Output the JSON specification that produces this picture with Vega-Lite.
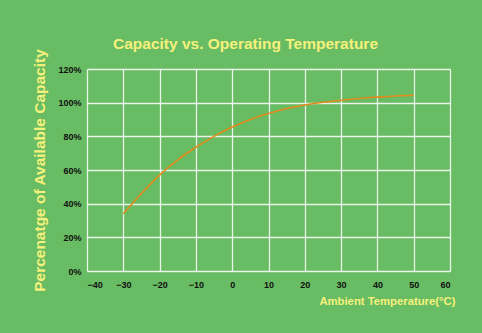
{
  "$schema": "https://vega.github.io/schema/vega-lite/v6.json",
  "autosize": {"type": "none"},
  "width": 363,
  "height": 202,
  "padding": {"left": 87, "top": 69, "right": 32, "bottom": 62},
  "background": "#68bc63",
  "title": {
    "text": "Capacity vs. Operating Temperature",
    "font": "Liberation Sans",
    "fontSize": 15.5,
    "fontWeight": "bold",
    "color": "#f6f17c",
    "anchor": "middle",
    "frame": "group",
    "baseline": "alphabetic",
    "offset": -16,
    "dx": -23
  },
  "data": {
    "values": [
      {"t": -30, "c": 0.34},
      {"t": -25, "c": 0.46},
      {"t": -20, "c": 0.57},
      {"t": -15, "c": 0.66},
      {"t": -10, "c": 0.735},
      {"t": -5, "c": 0.80},
      {"t": 0, "c": 0.855},
      {"t": 5, "c": 0.90},
      {"t": 10, "c": 0.935},
      {"t": 15, "c": 0.965},
      {"t": 20, "c": 0.986},
      {"t": 25, "c": 1.002},
      {"t": 30, "c": 1.014},
      {"t": 35, "c": 1.025},
      {"t": 40, "c": 1.033},
      {"t": 45, "c": 1.04},
      {"t": 50, "c": 1.044}
    ]
  },
  "mark": {"type": "line", "color": "#e38a1c", "strokeWidth": 1.6, "interpolate": "monotone"},
  "encoding": {
    "x": {
      "field": "t",
      "type": "quantitative",
      "scale": {"domain": [-40, 60], "nice": false},
      "axis": {
        "values": [-40, -30, -20, -10, 0, 10, 20, 30, 40, 50, 60],
        "title": "Ambient Temperature(°C)",
        "titleFont": "Liberation Sans",
        "titleFontSize": 11.3,
        "titleFontWeight": "bold",
        "titleColor": "#f6f17c",
        "titleAnchor": "end",
        "titleAlign": "right",
        "titleBaseline": "alphabetic",
        "titleX": 368,
        "titleY": 33,
        "labelFont": "Liberation Sans",
        "labelFontSize": 9,
        "labelFontWeight": "bold",
        "labelColor": "#111111",
        "labelPadding": 9,
        "ticks": false,
        "domain": false,
        "grid": true,
        "gridColor": "#ffffff",
        "gridOpacity": 0.85,
        "gridWidth": 1.3
      }
    },
    "y": {
      "field": "c",
      "type": "quantitative",
      "scale": {"domain": [0, 1.2], "nice": false},
      "axis": {
        "values": [0, 0.2, 0.4, 0.6, 0.8, 1.0, 1.2],
        "format": ".0%",
        "title": "Percenatge of Available Capacity",
        "titleFont": "Liberation Sans",
        "titleFontSize": 15.5,
        "titleFontWeight": "bold",
        "titleColor": "#f6f17c",
        "titlePadding": 10,
        "labelFont": "Liberation Sans",
        "labelFontSize": 9,
        "labelFontWeight": "bold",
        "labelColor": "#111111",
        "labelPadding": 6,
        "ticks": false,
        "domain": false,
        "grid": true,
        "gridColor": "#ffffff",
        "gridOpacity": 0.85,
        "gridWidth": 1.3
      }
    }
  },
  "config": {"view": {"stroke": null}}
}
